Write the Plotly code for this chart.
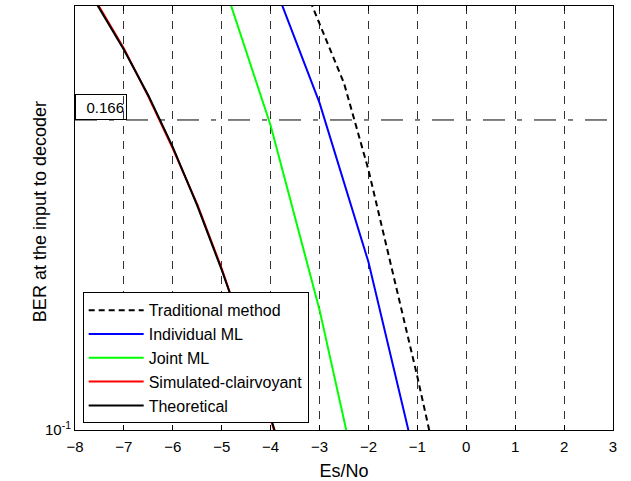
import numpy as np
import plotly.graph_objects as go

# ---- data ----
theo_x = [-8, -7.5, -7, -6.5, -6, -5.5, -5, -4.5, -4, -3.5, -3]
theoretical = [0.2130, 0.1993, 0.1862, 0.1728, 0.1588, 0.1443, 0.1299, 0.1160, 0.1026, 0.0905, 0.0790]
clairvoyant = [0.2136, 0.1998, 0.1866, 0.1725, 0.1584, 0.1446, 0.1302, 0.1157, 0.1023, 0.0903, 0.0788]

joint_x = [-5, -4, -3, -2]
joint_ml = [0.2096, 0.1645, 0.1217, 0.0849]

indiv_x = [-4, -3, -2, -1]
individual_ml = [0.2103, 0.1707, 0.1316, 0.0940]

trad_x = [-3.5, -3, -2.5, -2, -1.5, -1, -0.5]
traditional = [0.2141, 0.1944, 0.1763, 0.1530, 0.1295, 0.1091, 0.0911]

threshold = 0.166
x_ticks = list(range(-8, 4))
y_tick_vals = [0.1]
y_tick_text = ["10<sup>-1</sup>"]

FONT = "Liberation Sans, Arial, sans-serif"

fig = go.Figure()
fig.add_trace(go.Scatter(x=trad_x, y=traditional, mode="lines", name="Traditional method",
                         line=dict(color="black", width=2, dash="6px,4px")))
fig.add_trace(go.Scatter(x=indiv_x, y=individual_ml, mode="lines", name="Individual ML",
                         line=dict(color="#0000ff", width=2)))
fig.add_trace(go.Scatter(x=joint_x, y=joint_ml, mode="lines", name="Joint ML",
                         line=dict(color="#00ff00", width=2)))
fig.add_trace(go.Scatter(x=theo_x, y=clairvoyant, mode="lines", name="Simulated-clairvoyant",
                         line=dict(color="#ff0000", width=2)))
fig.add_trace(go.Scatter(x=theo_x, y=theoretical, mode="lines", name="Theoretical",
                         line=dict(color="black", width=2)))
fig.add_trace(go.Scatter(x=[x_ticks[0], x_ticks[-1]], y=[threshold, threshold], mode="lines",
                         showlegend=False, hoverinfo="skip",
                         line=dict(color="black", width=1, dash="22px,12px,5px,12px")))

fig.add_annotation(x=0, xref="paper", xanchor="left", y=np.log10(threshold), yref="y",
                   yanchor="bottom", text=str(threshold), showarrow=False,
                   font=dict(family=FONT, size=15, color="black"),
                   bordercolor="black", borderwidth=1, borderpad=2,
                   width=46, height=20, align="right", valign="middle")

fig.add_annotation(x=-0.066, xref="paper", xanchor="center", y=0.515, yref="paper",
                   yanchor="middle", textangle=-90, text="BER at the input to decoder",
                   showarrow=False, font=dict(family=FONT, size=18, color="black"))

fig.update_layout(
    width=631, height=481,
    margin=dict(l=75, r=18, t=6, b=51),
    paper_bgcolor="white", plot_bgcolor="white",
    font=dict(family=FONT, color="black"),
    showlegend=True,
    legend=dict(x=0.0143, y=0.0158, xanchor="left", yanchor="bottom",
                bordercolor="black", borderwidth=1, bgcolor="white",
                font=dict(family=FONT, size=16, color="black"),
                tracegroupgap=0, itemwidth=55),
)
fig.update_xaxes(
    range=[-8, 3], tickvals=x_ticks, ticks="inside", ticklen=5, tickcolor="black",
    showline=True, linecolor="black", linewidth=1, mirror="ticks",
    showgrid=True, gridcolor="#333333", gridwidth=1, griddash="8px,7px",
    zeroline=False, automargin=False, ticklabelstandoff=3,
    tickfont=dict(family=FONT, size=15, color="black"),
    title=dict(text="Es/No", font=dict(family=FONT, size=18, color="black"), standoff=13),
)
fig.update_yaxes(
    type="log", range=[-1, np.log10(0.2)], tickvals=y_tick_vals, ticktext=y_tick_text,
    ticks="inside", ticklen=5, tickcolor="black",
    showline=True, linecolor="black", linewidth=1, mirror="ticks", automargin=False,
    showgrid=False, zeroline=False, tickfont=dict(family=FONT, size=15, color="black"),
)

fig.write_html("out.html", config={"displayModeBar": False},
               post_script="document.body.style.margin='0px';")
